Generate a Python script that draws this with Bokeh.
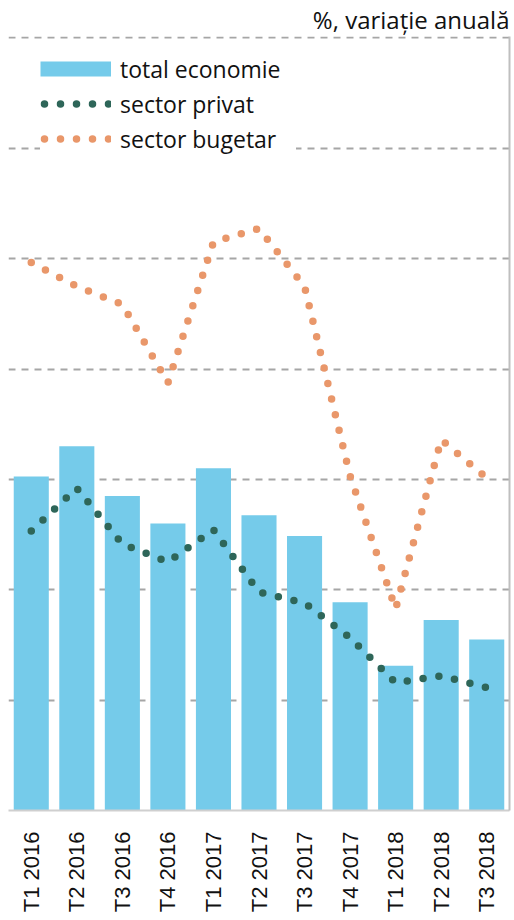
import math
from bokeh.plotting import figure
from bokeh.models import (FixedTicker, Legend, LegendItem, Title, Range1d,
                          ColumnDataSource)
from bokeh.embed import file_html
from bokeh.resources import INLINE

categories = ["T1 2016", "T2 2016", "T3 2016", "T4 2016", "T1 2017", "T2 2017",
              "T3 2017", "T4 2017", "T1 2018", "T2 2018", "T3 2018"]
total_economie = [12.1, 13.2, 11.4, 10.4, 12.4, 10.7, 9.95, 7.55, 5.25, 6.9, 6.2]
sector_privat = [10.13, 11.68, 9.66, 9.01, 10.17, 7.92, 7.52, 6.26, 4.63, 4.88, 4.45]
sector_bugetar = [19.86, 18.99, 18.34, 15.5, 20.6, 21.09, 18.99, 12.12, 7.31, 13.44, 12.05]
grid_values = [4, 8, 12, 16, 20, 24, 28]

BAR = "#75CBEA"
GREEN = "#2E6659"
ORANGE = "#E9976A"
FONT = "Open Sans"

xs = list(range(len(categories)))

p = figure(frame_width=501, frame_height=774,
           x_range=Range1d(-0.5, 10.5), y_range=Range1d(0, 28.05),
           output_backend="svg", toolbar_location=None,
           y_axis_location="right",
           min_border_left=8, min_border_right=5, min_border_top=0,
           min_border_bottom=0, outline_line_color=None,
           background_fill_color="white", border_fill_color="white")

p.add_layout(Title(text="%, variație anuală", align="right",
                   text_font=FONT, text_font_size="24px",
                   text_font_style="normal", text_color="#111111",
                   standoff=1), "above")

# grid
p.xgrid.visible = False
p.ygrid.ticker = FixedTicker(ticks=grid_values)
p.ygrid.grid_line_color = "#a6a6a6"
p.ygrid.grid_line_width = 2
p.ygrid.grid_line_dash = "7 6"

# x axis
p.xaxis.ticker = FixedTicker(ticks=xs)
p.xaxis.major_label_overrides = {i: c for i, c in enumerate(categories)}
p.xaxis.major_label_orientation = math.pi / 2
p.xaxis.major_label_text_font = "Liberation Sans"
p.xaxis.major_label_text_font_size = "22px"
p.xaxis.major_label_text_color = "#111111"
p.xaxis.major_label_standoff = 21
p.xaxis.major_tick_out = 0
p.xaxis.major_tick_in = 0
p.xaxis.minor_tick_out = 0
p.xaxis.minor_tick_in = 0
p.xaxis.major_tick_line_color = None
p.xaxis.minor_tick_line_color = None
p.xaxis.axis_line_color = "#cfcfcf"
p.xaxis.axis_line_width = 2

# right axis: line only
p.yaxis.ticker = FixedTicker(ticks=[])
p.yaxis.major_label_standoff = 0
p.yaxis.major_tick_out = 0
p.yaxis.major_tick_in = 0
p.yaxis.minor_tick_out = 0
p.yaxis.minor_tick_in = 0
p.yaxis.axis_label_standoff = 0
p.yaxis.major_tick_line_color = None
p.yaxis.minor_tick_line_color = None
p.yaxis.axis_line_color = "#bfbfbf"
p.yaxis.axis_line_width = 2

src = ColumnDataSource(dict(x=xs, total=total_economie, privat=sector_privat,
                            bugetar=sector_bugetar))

p.vbar(x="x", top="total", width=0.77, source=src,
       fill_color=BAR, line_color=None)

dot_style = dict(line_width=7.5, line_cap="round", line_join="round",
                 line_dash="0 16")
p.line(x="x", y="privat", source=src, line_color=GREEN, **dot_style)
p.line(x="x", y="bugetar", source=src, line_color=ORANGE, **dot_style)

# legend swatches (no data drawn)
nan = float("nan")
bar_key = p.line(x=[0], y=[nan], line_color=BAR, line_width=15, line_cap="butt")
priv_key = p.line(x=[0], y=[nan], line_color=GREEN, line_dash_offset=12,
                  **dot_style)
pub_key = p.line(x=[0], y=[nan], line_color=ORANGE, line_dash_offset=12,
                 **dot_style)

legend = Legend(items=[
    LegendItem(label="total economie", renderers=[bar_key]),
    LegendItem(label="sector privat", renderers=[priv_key]),
    LegendItem(label="sector bugetar", renderers=[pub_key]),
], location=(32, 654), padding=13, margin=0, spacing=0,
    glyph_width=71, glyph_height=35, label_height=35, label_standoff=9,
    label_width=176,
    label_text_font=FONT, label_text_font_size="23px",
    label_text_color="#111111",
    border_line_color=None, background_fill_color="white",
    background_fill_alpha=1.0)
p.add_layout(legend)

open("out.html", "w").write(file_html(p, INLINE))
